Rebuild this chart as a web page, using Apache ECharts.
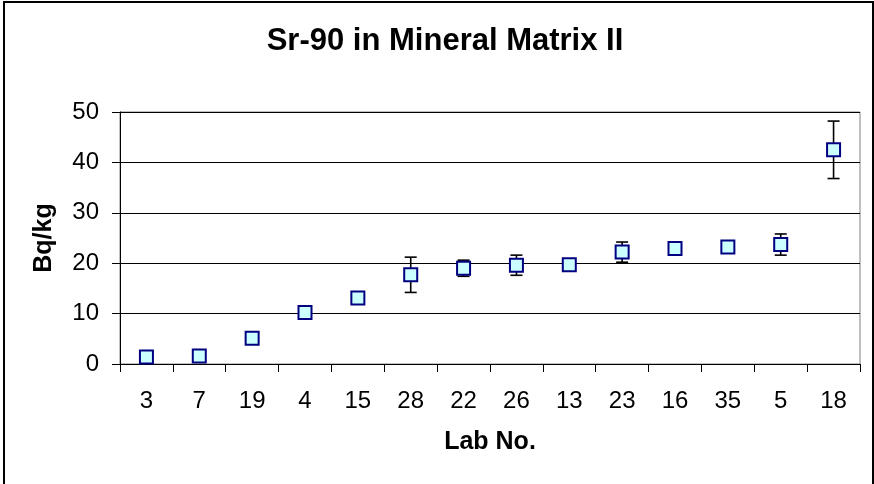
<!DOCTYPE html>
<html>
<head>
<meta charset="utf-8">
<script src="https://cdn.jsdelivr.net/npm/echarts@6/dist/echarts.min.js"></script>
<style>html,body{margin:0;padding:0;background:#fff;}#c{width:874px;height:484px;}</style>
</head>
<body>
<div id="c"></div>
<script>
const labs = ['3','7','19','4','15','28','22','26','13','23','16','35','5','18'];
const values = [1.4, 1.6, 5.1, 10.2, 13.1, 17.7, 19.0, 19.6, 19.7, 22.2, 22.9, 23.2, 23.7, 42.5];
const uncert = [0, 0, 0, 0, 0, 3.5, 1.6, 2.0, 0, 2.0, 0, 0, 2.1, 5.7];
const yTicks = [0, 10, 20, 30, 40, 50];

const errData = labs.map((l, i) => [i, values[i] - uncert[i], values[i] + uncert[i], uncert[i]]);
const FONT = "'Liberation Sans', Arial, sans-serif";

const chart = echarts.init(document.getElementById('c'), null, {renderer: 'canvas'});
chart.setOption({
  animation: false,
  backgroundColor: '#fff',
  title: {
    text: 'Sr-90 in Mineral Matrix II',
    left: 440, top: 21, textAlign: 'center',
    textStyle: {fontFamily: FONT, fontSize: 31, fontWeight: 'bold', color: '#000'}
  },
  graphic: [{
    type: 'rect', silent: true, z: 100,
    shape: {x: 4, y: 2, width: 869, height: 500},
    style: {fill: 'none', stroke: '#000', lineWidth: 2}
  }],
  grid: {left: 120, right: 14, top: 112, bottom: 120, show: true, borderColor: '#808080', borderWidth: 1, backgroundColor: '#fff'},
  xAxis: {
    type: 'category', data: labs, boundaryGap: true,
    name: 'Lab No.', nameLocation: 'middle', nameGap: 66,
    nameTextStyle: {fontFamily: FONT, fontSize: 25, fontWeight: 'bold', color: '#000'},
    axisLine: {lineStyle: {color: '#000', width: 1}},
    axisTick: {show: true, length: 8, lineStyle: {color: '#000'}},
    axisLabel: {fontFamily: FONT, fontSize: 24, color: '#000', margin: 25, interval: 0},
    splitLine: {show: false}
  },
  yAxis: {
    type: 'value', min: yTicks[0], max: yTicks[yTicks.length - 1], interval: 10,
    name: 'Bq/kg', nameLocation: 'middle', nameGap: 63, nameRotate: 90,
    nameTextStyle: {fontFamily: FONT, fontSize: 25, fontWeight: 'bold', color: '#000'},
    axisLine: {show: true, lineStyle: {color: '#000', width: 1}},
    axisTick: {show: true, length: 8, lineStyle: {color: '#000'}},
    axisLabel: {fontFamily: FONT, fontSize: 24, color: '#000', margin: 21},
    splitLine: {show: true, lineStyle: {color: '#000', width: 1}}
  },
  series: [
    {
      type: 'custom', z: 3,
      data: errData,
      renderItem: function (params, api) {
        if (api.value(3) <= 0) return null;
        const x = api.coord([api.value(0), api.value(1)])[0];
        const yl = api.coord([api.value(0), api.value(1)])[1];
        const yh = api.coord([api.value(0), api.value(2)])[1];
        const w = 6;
        const st = {stroke: '#000', lineWidth: 1.6};
        return {type: 'group', children: [
          {type: 'line', shape: {x1: x, y1: yl, x2: x, y2: yh}, style: st},
          {type: 'line', shape: {x1: x - w, y1: yl, x2: x + w, y2: yl}, style: st},
          {type: 'line', shape: {x1: x - w, y1: yh, x2: x + w, y2: yh}, style: st}
        ]};
      },
      encode: {x: 0, y: [1, 2]}
    },
    {
      type: 'scatter', z: 5,
      data: values,
      symbol: 'rect', symbolSize: 13,
      itemStyle: {color: '#CCFFFF', borderColor: '#000080', borderWidth: 2, opacity: 1}
    }
  ]
});
</script>
</body>
</html>
